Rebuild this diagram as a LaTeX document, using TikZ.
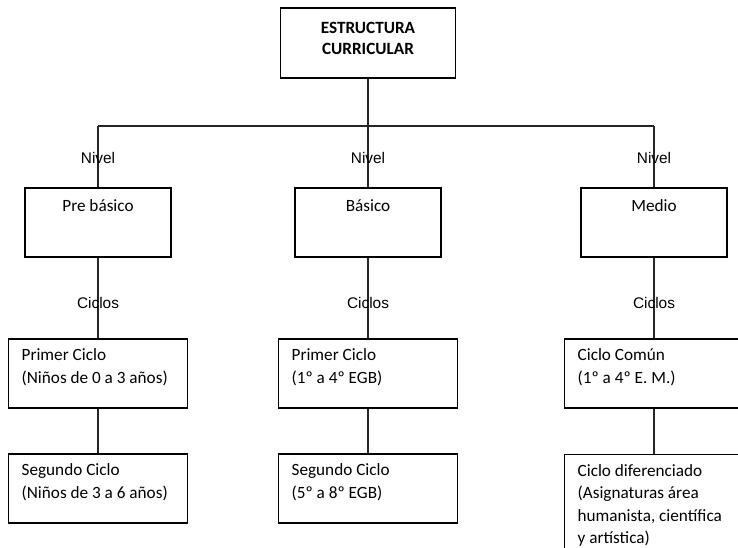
\documentclass[tikz,border=0pt]{standalone}
\usepackage{fontspec}
\setmainfont{Carlito}
\newfontfamily\arialfont{Liberation Sans}
\begin{document}
\begin{tikzpicture}[x=1pt,y=-1pt,
  boxstyle/.style={draw=black, line width=1.1pt, rectangle, inner sep=0pt},
  topbox/.style={boxstyle, minimum width=175pt, minimum height=70pt},
  toptext/.style={inner sep=0pt, align=center, font=\fontsize{17.2}{21.5}\selectfont\bfseries},
  levelbox/.style={boxstyle, minimum width=146pt, minimum height=69pt},
  cyclebox/.style={boxstyle, minimum width=179pt, minimum height=69pt},
  boxtext/.style={inner sep=0pt, align=left, anchor=north west,
    font=\fontsize{17.2}{22.5}\selectfont},
  leveltext/.style={inner sep=0pt, anchor=center, font=\fontsize{17.2}{22.5}\selectfont},
  tag/.style={inner sep=0pt, font=\arialfont\fontsize{15.4}{18}\selectfont},
  link/.style={draw=black!85, line width=1.1pt}]
\useasboundingbox (0,0) rectangle (738,547);
\clip (0,0) rectangle (738,547);
\fill[white] (0,0) rectangle (738,547);

% head of the chart
\node[topbox] (root) at (368,43) {};
\node[toptext] (rootT) at ([yshift=4.5]root.center) {ESTRUCTURA\\CURRICULAR};

% bus joining the three levels
\coordinate (busL) at (98,126);
\coordinate (busR) at (654,126);

% levels
\node[levelbox] (pre) at (98,222.5) {};
\node[levelbox] (bas) at (368,222.5) {};
\node[levelbox] (med) at (654,222.5) {};
\node[leveltext] (preT) at ([yshift=-18]pre.north) {Pre básico};
\node[leveltext] (basT) at ([yshift=-18]bas.north) {Básico};
\node[leveltext] (medT) at ([yshift=-18]med.north) {Medio};

% cycles, first row
\node[cyclebox] (c1a) at (98,373.5) {};
\node[cyclebox] (c1b) at (368,373.5) {};
\node[cyclebox] (c1c) at (654,373.5) {};
% cycles, second row
\node[cyclebox] (c2a) at (98,488.5) {};
\node[cyclebox] (c2b) at (368,488.5) {};
\node[boxstyle, minimum width=179pt, minimum height=140pt, anchor=north] (c2c) at (654,454) {};

\node[boxtext] (c1aT) at ([xshift=13.5,yshift=-10]c1a.north west) {Primer Ciclo\\(Niños de 0 a 3 años)};
\node[boxtext] (c1bT) at ([xshift=13.5,yshift=-10]c1b.north west) {Primer Ciclo\\(1º a 4º EGB)};
\node[boxtext] (c1cT) at ([xshift=13.5,yshift=-10]c1c.north west) {Ciclo Común\\(1º a 4º E. M.)};
\node[boxtext] (c2aT) at ([xshift=13.5,yshift=-10]c2a.north west) {Segundo Ciclo\\(Niños de 3 a 6 años)};
\node[boxtext] (c2bT) at ([xshift=13.5,yshift=-10]c2b.north west) {Segundo Ciclo\\(5º a 8º EGB)};
\node[boxtext] (c2cT) at ([xshift=13.5,yshift=-10]c2c.north west) {Ciclo diferenciado\\(Asignaturas área\\humanista, científica\\y artística)};

% connectors
\draw[link] (root.south) -- (root.south |- busL);
\draw[link] (busL) -- (busR);
\draw[link] (busL) -- (pre.north);
\draw[link] (root.south |- busL) -- (bas.north);
\draw[link] (busR) -- (med.north);
\draw[link] (pre.south) -- (c1a.north);
\draw[link] (bas.south) -- (c1b.north);
\draw[link] (med.south) -- (c1c.north);
\draw[link] (c1a.south) -- (c2a.north);
\draw[link] (c1b.south) -- (c2b.north);
\draw[link] (c1c.south) -- (c2c.north);

% connector labels, set over the lines
\node[tag] (nivA) at (98,158) {Nivel};
\node[tag] (nivB) at (368,158) {Nivel};
\node[tag] (nivC) at (654,158) {Nivel};
\node[tag] (cicA) at (98,303) {Ciclos};
\node[tag] (cicB) at (368,303) {Ciclos};
\node[tag] (cicC) at (654,303) {Ciclos};
\end{tikzpicture}
\end{document}
